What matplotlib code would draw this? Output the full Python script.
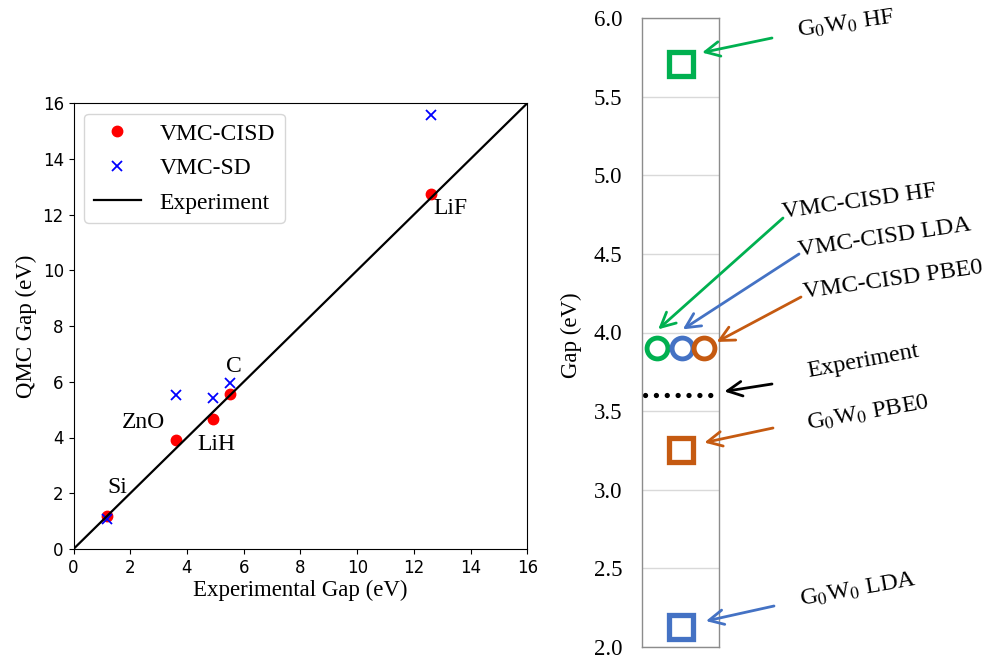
import numpy as np
import matplotlib
matplotlib.use("Agg")
import matplotlib.pyplot as plt

plt.rcParams["mathtext.fontset"] = "stix"

W, H = 984, 655
SERIF = "Liberation Serif"

# left panel: QMC vs experimental gap
materials = ["Si", "ZnO", "LiH", "C", "LiF"]
exp_gap = [1.17, 3.60, 4.91, 5.52, 12.60]
vmc_cisd = [1.20, 3.92, 4.66, 5.57, 12.72]
vmc_sd = [1.07, 5.52, 5.40, 5.97, 15.58]
label_pos = [(1.55, 2.2), (2.45, 4.55), (5.05, 3.75), (5.65, 6.55), (13.3, 12.2)]
diag = [0, 16]

# right panel: ZnO gap by method
methods = [r"G$_0$W$_0$ HF", "VMC-CISD HF", "VMC-CISD LDA", "VMC-CISD PBE0",
           "Experiment", r"G$_0$W$_0$ PBE0", r"G$_0$W$_0$ LDA"]
square_gap = [5.71, 3.25, 2.13]
square_col = ["#00b050", "#c55a11", "#4472c4"]
circle_gap = [3.90, 3.90, 3.90]
circle_x = [0.19, 0.52, 0.80]
circle_col = ["#00b050", "#4472c4", "#c55a11"]
exp_znO = 3.6


def fpx(x, y):
    return x / W, 1 - y / H


fig = plt.figure(figsize=(W / 100, H / 100), dpi=100)

ax = fig.add_axes([73.5 / W, 1 - 549 / H, 454 / W, 446 / H])
ax.plot(exp_gap, vmc_cisd, "o", color="red", ms=7.5, label="VMC-CISD")
ax.plot(exp_gap, vmc_sd, "x", color="blue", ms=7.5, mew=1.3, label="VMC-SD")
ax.plot(diag, diag, "-", color="black", lw=1.6, label="Experiment")
for name, (tx, ty) in zip(materials, label_pos):
    ax.text(tx, ty, name, family=SERIF, fontsize=17, ha="center", va="center")
ax.set_xlim(0, 16)
ax.set_ylim(0, 16)
ax.set_xticks(range(0, 17, 2))
ax.set_yticks(range(0, 17, 2))
ax.tick_params(labelsize=12)
ax.set_xlabel("Experimental Gap (eV)", family=SERIF, fontsize=16.5, labelpad=2)
ax.set_ylabel("QMC Gap (eV)", family=SERIF, fontsize=16.5, labelpad=4)
ax.legend(loc="upper left", prop={"family": SERIF, "size": 17},
          borderaxespad=0.45, handletextpad=0.8, handlelength=2.0,
          labelspacing=0.55)

# right panel
ax2 = fig.add_axes([642 / W, 1 - 647 / H, 77 / W, 629 / H])
ax2.set_xlim(0, 1)
ax2.set_ylim(2.0, 6.0)
ax2.set_yticks(np.arange(2.0, 6.01, 0.5))
ax2.set_yticklabels([f"{v:.1f}" for v in np.arange(2.0, 6.01, 0.5)],
                    family=SERIF, fontsize=16.5)
ax2.set_xticks([])
ax2.tick_params(axis="y", length=0, pad=14)
ax2.grid(axis="y", color="#d9d9d9", lw=1)
ax2.set_axisbelow(True)
for s in ax2.spines.values():
    s.set_color("#8c8c8c")
    s.set_linewidth(1)

for g, c in zip(square_gap, square_col):
    ax2.plot(0.5, g, "s", ms=17, mfc="white", mec=c, mew=3.8, clip_on=False)
for xx, g, c in zip(circle_x, circle_gap, circle_col):
    ax2.plot(xx, g, "o", ms=15, mfc="white", mec=c, mew=3.5, clip_on=False)
ax2.plot([0.04, 1], [exp_znO, exp_znO], color="black", lw=3.8,
         linestyle=(0, (0.01, 2.05)), dash_capstyle="round")

fig.text(*fpx(571, 335), "Gap (eV)", family=SERIF, fontsize=16.5,
         rotation=90, ha="center", va="center")

# arrows: (tail px, head in (axes x, data y), color)
arrows = [
    ((772, 38), (0.78, 5.78), "#00b050"),
    ((783, 218), (0.21, 4.02), "#00b050"),
    ((799, 254), (0.53, 4.02), "#4472c4"),
    ((801, 297), (0.97, 3.94), "#c55a11"),
    ((772, 384), (1.07, 3.625), "black"),
    ((773, 428), (0.81, 3.30), "#c55a11"),
    ((774, 606), (0.83, 2.165), "#4472c4"),
]
for tail, head, c in arrows:
    ax2.annotate("", xy=head, xycoords=("axes fraction", "data"),
                 xytext=fpx(*tail), textcoords="figure fraction",
                 annotation_clip=False,
                 arrowprops=dict(arrowstyle="->,head_length=0.7,head_width=0.35",
                                 color=c, lw=2, shrinkA=0, shrinkB=0,
                                 mutation_scale=15))

# rotated labels, baseline start in px
label_xy = [(798, 37), (783, 218), (799, 256), (804, 298),
            (808, 377), (808, 430), (801, 606)]
label_rot = [8, 8, 8.5, 8, 10.5, 10, 10]
for t, (x, y), r in zip(methods, label_xy, label_rot):
    fig.text(*fpx(x, y), t, family=SERIF, fontsize=17.5, rotation=r,
             rotation_mode="anchor", ha="left", va="baseline")

fig.savefig("out.png", dpi=100)
